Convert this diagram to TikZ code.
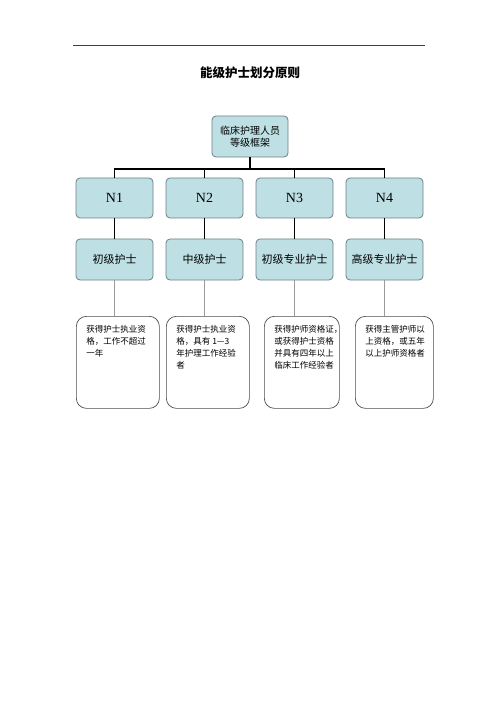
\documentclass[tikz,border=0pt]{standalone}
\usepackage{fontspec}
\setmainfont{Liberation Serif}
\newfontfamily\cjk{Noto Sans CJK SC}
\definecolor{boxfill}{HTML}{BEE0E4}
\definecolor{boxline}{HTML}{6E7F83}
\definecolor{thinline}{HTML}{9A9A9A}
\tikzset{
  box/.style={draw=boxline, fill=boxfill, rounded corners=4pt, line width=0.8pt,
    minimum width=77pt, minimum height=40pt, inner sep=0pt, align=center},
  descbox/.style={draw=black!70, rounded corners=10pt, line width=0.7pt,
    inner xsep=10pt, inner ysep=9pt, anchor=north west},
  trunk/.style={line width=1.6pt},
  twig/.style={thinline, line width=0.8pt}
}
\newcommand{\desctext}[3]{\parbox[t][#2][t]{#1}{\raggedright\cjk\fontsize{8.5}{12}\selectfont #3}}
\begin{document}
\begin{tikzpicture}[x=1pt,y=-1pt]
	\useasboundingbox (0,0) rectangle (500,708);

	\draw[black!75, line width=0.8pt] (73,45) -- (425,45);
	\node (title) at (250,73) {\cjk\bfseries\fontsize{12.5}{14}\selectfont 能级护士划分原则};

	\node[box, minimum width=76pt, minimum height=41pt, font={\cjk\fontsize{10}{12}\selectfont}] (top) at (250,136.5)
		{临床护理人员\\等级框架};
	\coordinate (bus) at (250,169);
	\draw[trunk] (top) -- (bus);

	\foreach \i/\x/\lab in {1/114.5/初级护士, 2/204.5/中级护士, 3/294.5/初级专业护士, 4/384.5/高级专业护士} {
		\node[box] (n\i) at (\x,198) {\fontsize{14}{16}\selectfont N\i};
		\node[box, minimum height=41pt] (l\i) at (\x,259.5) {\cjk\fontsize{11}{13}\selectfont \lab};
		\draw[trunk] (bus) -| (n\i.north);
		\draw[trunk] (n\i) -- (l\i);
	}

	\node[descbox] (d1) at (76,316) {\desctext{63pt}{74pt}{获得护士执业资\\格，工作不超过\\一年}};
	\node[descbox] (d2) at (166,316) {\desctext{63pt}{74pt}{获得护士执业资\\格，具有 1—3\\年护理工作经验\\者}};
	\node[descbox] (d3) at (264,316) {\desctext{55pt}{74pt}{获得护师资格证，\\或获得护士资格\\并具有四年以上\\临床工作经验者}};
	\node[descbox] (d4) at (355,316) {\desctext{58pt}{74pt}{获得主管护师以\\上资格，或五年\\以上护师资格者}};

	\foreach \i in {1,...,4} {\draw[twig] (l\i.south) -- (l\i.south |- d\i.north);}
\end{tikzpicture}
\end{document}
